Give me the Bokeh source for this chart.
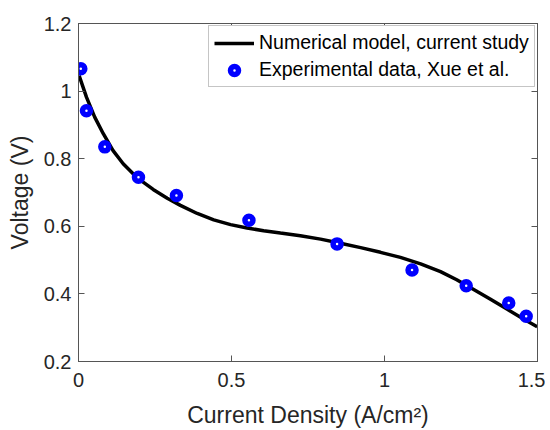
from bokeh.plotting import figure
from bokeh.models import Range1d, FixedTicker, LinearAxis, Legend, LegendItem
from bokeh.embed import file_html
from bokeh.resources import INLINE

# Numerical model curve
model_x = [0.002, 0.026, 0.053, 0.081, 0.113, 0.146, 0.190, 0.244, 0.290, 0.333,
           0.388, 0.442, 0.497, 0.551, 0.605, 0.660, 0.725, 0.791, 0.856, 0.922,
           0.987, 1.052, 1.118, 1.183, 1.236, 1.290, 1.345, 1.400, 1.450, 1.499]
model_y = [1.046, 0.982, 0.923, 0.874, 0.824, 0.785, 0.745, 0.709, 0.683, 0.662,
           0.638, 0.619, 0.605, 0.595, 0.587, 0.580, 0.572, 0.562, 0.550, 0.537,
           0.523, 0.508, 0.489, 0.466, 0.442, 0.414, 0.385, 0.355, 0.328, 0.303]

# Experimental data, Xue et al.
exp_x = [0.0075, 0.026, 0.086, 0.196, 0.320, 0.557, 0.845, 1.090, 1.267, 1.406, 1.463]
exp_y = [1.066, 0.942, 0.835, 0.745, 0.691, 0.618, 0.548, 0.471, 0.424, 0.373, 0.334]

x_ticks = [0, 0.5, 1, 1.5]
x_tick_labels = ["0", "0.5", "1", "1.5"]
y_ticks = [0.2, 0.4, 0.6, 0.8, 1.0, 1.2]
y_tick_labels = ["0.2", "0.4", "0.6", "0.8", "1", "1.2"]

FONT = "Liberation Sans"
TXT = "#262626"
AX = "#555555"

p = figure(width=545, height=430, output_backend="svg", toolbar_location=None,
           x_range=Range1d(0, 1.5), y_range=Range1d(0.2, 1.2),
           min_border_left=78, min_border_top=23, min_border_right=8, min_border_bottom=69,
           background_fill_color="white", border_fill_color="white")
p.grid.visible = False
p.outline_line_color = AX
p.outline_line_width = 1

def style_axis(ax, ticks, labels, show_labels=True):
    ax.ticker = FixedTicker(ticks=ticks)
    ax.major_label_overrides = {t: l for t, l in zip(ticks, labels)}
    ax.minor_tick_line_color = None
    ax.major_tick_in = 6
    ax.major_tick_out = 0
    ax.major_tick_line_color = AX
    ax.axis_line_color = AX
    ax.major_label_text_font = FONT
    ax.major_label_text_color = TXT
    if show_labels:
        ax.major_label_text_font_size = "20px"
    else:
        ax.major_label_text_font_size = "0px"
        ax.major_label_text_color = None
        ax.major_label_standoff = 0

xa = p.xaxis[0]
ya = p.yaxis[0]
style_axis(xa, x_ticks, x_tick_labels)
style_axis(ya, y_ticks, y_tick_labels)
xa.major_label_standoff = 11
ya.major_label_standoff = 7
xa.axis_label = "Current Density (A/cm²)"
ya.axis_label = "Voltage (V)"
for a in (xa, ya):
    a.axis_label_text_font = FONT
    a.axis_label_text_font_size = "23px"
    a.axis_label_text_font_style = "normal"
    a.axis_label_text_color = TXT
xa.axis_label_standoff = 12
ya.axis_label_standoff = 8

top = LinearAxis()
style_axis(top, x_ticks, x_tick_labels, show_labels=False)
p.add_layout(top, "above")
right = LinearAxis()
style_axis(right, y_ticks, y_tick_labels, show_labels=False)
p.add_layout(right, "right")

r_line = p.line(model_x, model_y, line_color="black", line_width=3.5)
r_pts = p.scatter(exp_x, exp_y, marker="circle", size=8,
                  line_color="#0000ff", line_width=5.5, fill_color="white")

legend = Legend(items=[LegendItem(label="Numerical model, current study", renderers=[r_line]),
                       LegendItem(label="Experimental data, Xue et al.", renderers=[r_pts])],
                location=(130, 274))
legend.label_text_font = FONT
legend.label_text_font_size = "19.5px"
legend.label_text_color = "black"
legend.label_height = 20
legend.glyph_height = 20
legend.glyph_width = 40
legend.label_standoff = 5
legend.spacing = 4
legend.padding = 5
legend.margin = 0
legend.border_line_color = "#8c8c8c"
legend.border_line_width = 1
legend.background_fill_color = "white"
legend.background_fill_alpha = 1
p.add_layout(legend, "center")

open("out.html", "w").write(file_html(p, INLINE))
